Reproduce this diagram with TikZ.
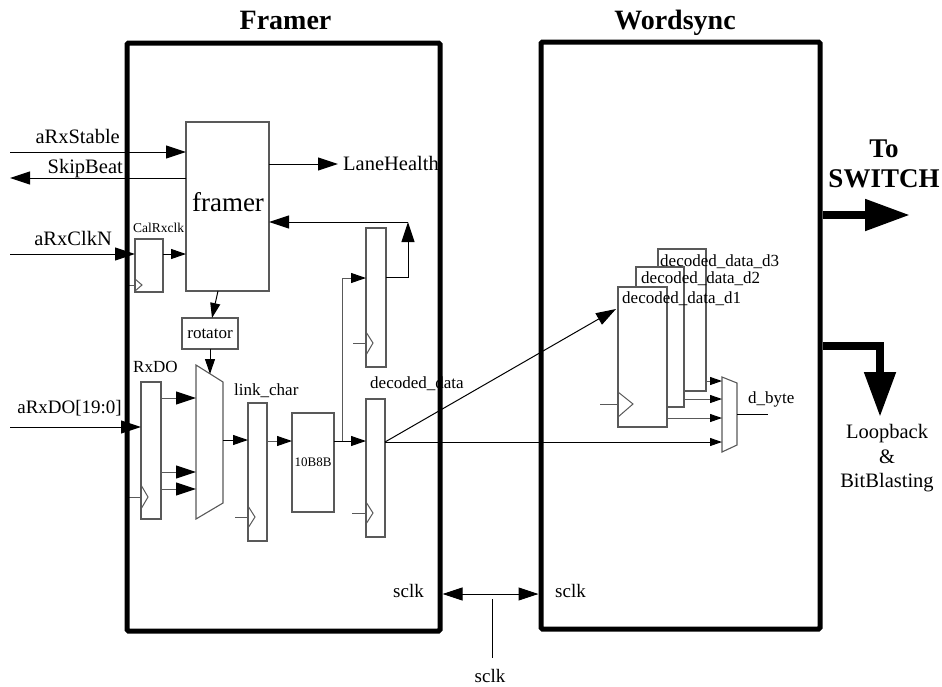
\documentclass[tikz,border=0pt]{standalone}
\usepackage{fontspec}
\setmainfont{Liberation Serif}
\usetikzlibrary{arrows.meta,calc}
\begin{document}
\begin{tikzpicture}[x=1pt,y=-1pt,
  box/.style={draw=black!65,fill=white,line width=1.1pt,inner sep=0pt,outer sep=0pt},
  frame/.style={draw=black,line width=5pt,rounded corners=1.5pt},
  lbl/.style={inner sep=0pt,font=\fontsize{19}{22}\selectfont},
  blbl/.style={inner sep=0pt,font=\fontsize{20.5}{24}\selectfont},
  mlbl/.style={inner sep=0pt,font=\fontsize{17}{20}\selectfont},
  slbl/.style={inner sep=0pt,font=\fontsize{13.5}{16}\selectfont},
  ttl/.style={inner sep=0pt,font=\fontsize{28}{30}\selectfont\bfseries},
  wire/.style={line width=1pt,draw=black},
  gwire/.style={line width=1pt,draw=black!65},
  ahB/.style={-{Triangle[length=20pt,width=13pt,color=black]}},
  ahM/.style={-{Triangle[length=15pt,width=10pt,color=black]}},
  ahS/.style={-{Triangle[length=12pt,width=8pt,color=black]}},
  dblarr/.style={{Triangle[length=20pt,width=13pt]}-{Triangle[length=20pt,width=13pt]}},
  fat/.style={line width=8pt,-{Triangle[length=45pt,width=30pt]}},
  clkt/.style={draw=black!65,line width=1pt}
]
\useasboundingbox (0,0) rectangle (942,686);

% titles
\node[ttl,anchor=base] (tF) at (285.5,29) {Framer};
\node[ttl,anchor=base] (tW) at (675,29) {Wordsync};

% blocks in Framer
\node[box,minimum width=83pt,minimum height=169pt] (fr) at (227.5,206.5) {};
\node[inner sep=0pt,font=\fontsize{27}{30}\selectfont,anchor=base] (frt) at (228,211) {framer};
\node[box,minimum width=28pt,minimum height=53pt] (cal) at (149,265.5) {};
\node[box,minimum width=56pt,minimum height=31pt,font=\fontsize{17}{20}\selectfont] (rot) at (210,333.5) {rotator};
\node[box,minimum width=20pt,minimum height=137pt] (rxdo) at (151,450.5) {};
\node[box,minimum width=19pt,minimum height=138pt] (lnk) at (257.5,472) {};
\node[box,minimum width=42pt,minimum height=99pt,font=\fontsize{13}{15}\selectfont] (b10) at (313,462.5) {10B8B};
\node[box,minimum width=20pt,minimum height=139pt] (up) at (376,297.5) {};
\node[box,minimum width=19pt,minimum height=138pt] (dec) at (375.5,468) {};

% mux 1
\coordinate (m1a) at (196,365);
\coordinate (m1b) at (223,382);
\coordinate (m1c) at (223,503);
\coordinate (m1d) at (196,519);
\draw[box] (m1a) -- (m1b) -- (m1c) -- (m1d) -- cycle;

% blocks in Wordsync
\node[box,minimum width=48pt,minimum height=142pt] (d3) at (682,320) {};
\node[box,minimum width=48pt,minimum height=140pt] (d2) at (660,337) {};
\node[box,minimum width=49pt,minimum height=140pt] (d1) at (642.5,357) {};
\node[mlbl,anchor=base west] (d3t) at (660,266) {decoded\_data\_d3};
\node[mlbl,anchor=base west] (d2t) at (641,283) {decoded\_data\_d2};
\node[mlbl,anchor=base west] (d1t) at (622,303) {decoded\_data\_d1};

% mux 2
\coordinate (m2a) at (722,377);
\coordinate (m2b) at (737,383);
\coordinate (m2c) at (737,445);
\coordinate (m2d) at (722,452);
\draw[box] (m2a) -- (m2b) -- (m2c) -- (m2d) -- cycle;

% clock triangles
\draw[clkt] (135,279) -- (142,285) -- (135,291);
\draw[gwire] (127,285) -- (135,285);
\draw[clkt] (141,485) -- (148,497) -- (141,509);
\draw[gwire] (127,497) -- (141,497);
\draw[clkt] (248,506) -- (255,517) -- (248,528);
\draw[gwire] (235,517) -- (248,517);
\draw[clkt] (366,332) -- (373,343) -- (366,355);
\draw[gwire] (353,343) -- (366,343);
\draw[clkt] (366,502) -- (373,513) -- (366,524);
\draw[gwire] (352,513) -- (366,513);
\draw[clkt] (618,392) -- (633,404) -- (618,417);
\draw[gwire] (600,404) -- (618,404);

% labels
\node[blbl,anchor=base east] (l1) at (120,143) {aRxStable};
\node[blbl,anchor=base east] (l2) at (123,173) {SkipBeat};
\node[blbl,anchor=base east] (l3) at (112,245) {aRxClkN};
\node[slbl,anchor=base west] (l4) at (133,232) {CalRxclk};
\node[blbl,anchor=base west] (l5) at (343,170) {LaneHealth};
\node[mlbl,anchor=base west] (l6) at (133,372) {RxDO};
\node[lbl,anchor=base east] (l7) at (122,413) {aRxDO[19:0]};
\node[mlbl,anchor=base west] (l8) at (234,395) {link\_char};
\node[mlbl,anchor=base west] (l9) at (370,388) {decoded\_data};
\node[mlbl,anchor=base west] (l10) at (748,403) {d\_byte};
\node[lbl,anchor=base west] (s1) at (393,597) {sclk};
\node[lbl,anchor=base west] (s2) at (555,597) {sclk};
\node[lbl,anchor=base] (s3) at (490,682) {sclk};
\node[ttl,font=\fontsize{27}{30}\selectfont\bfseries,anchor=base] (to1) at (884,157) {To};
\node[ttl,font=\fontsize{27}{30}\selectfont\bfseries,anchor=base] (to2) at (884,187) {SWITCH};
\node[blbl,anchor=base] (lb1) at (887,438) {Loopback};
\node[blbl,anchor=base] (lb2) at (887,463) {\&};
\node[blbl,anchor=base] (lb3) at (887,487) {BitBlasting};

% free ends
\coordinate (inS) at (10,152);
\coordinate (outSB) at (10,178);
\coordinate (inC) at (10,254);
\coordinate (inD) at (10,427);
\coordinate (lhE) at (338,164);
\coordinate (fb) at (408,222);
\coordinate (br) at (342,441);
\coordinate (dsp) at (385,442);
\coordinate (d1in) at (616,309);
\coordinate (dbo) at (768,414);

% wires
\draw[wire,ahB] (inS) -- (fr.west |- inS);
\draw[wire,ahB] (fr.west |- outSB) -- (outSB);
\draw[wire,ahB] (inC) -- (cal.west |- inC);
\draw[wire,ahM] (cal.east |- inC) -- (fr.west |- inC);
\draw[wire,ahB] (fr.east |- lhE) -- (lhE);
\draw[wire,ahB] (fb) -- (fr.east |- fb);
\draw[wire,ahB] (up.east |- 0,277) -| (fb);
\draw[wire,ahM] (fr.south -| 218,0) -- (rot.north -| 212,0);
\draw[wire,ahM] (rot.south) -- (210,374);
\draw[wire,ahB] (inD) -- (rxdo.west |- inD);
\draw[gwire,ahB] (rxdo.east |- 0,398) -- (m1a |- 0,398);
\draw[gwire,ahB] (rxdo.east |- 0,472) -- (m1a |- 0,472);
\draw[gwire,ahB] (rxdo.east |- 0,489) -- (m1a |- 0,489);
\draw[wire,ahM] (m1b |- 0,440) -- (lnk.west |- 0,440);
\draw[gwire,ahM] (lnk.east |- 0,441) -- (b10.west |- 0,441);
\draw[wire,ahM] (b10.east |- 0,441) -- (dec.west |- 0,441);
\draw[gwire,ahM] (br) |- (up.west |- 0,278);
\draw[wire,ahB] (dsp) -- (d1in);
\draw[wire,ahS] (dsp) -- (m2a |- dsp);
\draw[gwire,ahS] (d3.east |- 0,381) -- (m2a |- 0,381);
\draw[gwire,ahS] (d2.east |- 0,399) -- (m2a |- 0,399);
\draw[gwire,ahS] (d1.east |- 0,418) -- (m2a |- 0,418);
\draw[wire] (m2b |- dbo) -- (dbo);

% frames
\node[frame,minimum width=313pt,minimum height=588pt,inner sep=0pt] (F) at (283.5,337) {};
\node[frame,minimum width=279pt,minimum height=587pt,inner sep=0pt] (W) at (680.5,335.5) {};

% big arrows
\draw[fat] (W.east |- 0,215) -- (910,215);
\draw[line width=8pt] (W.east |- 0,346) -- (880,346) -- (880,386);
\draw[fat] (880,342) -- (880,417);

% sclk
\coordinate (sc) at (492,594);
\coordinate (scb) at (492,658);
\draw[wire,dblarr] (F.east |- sc) -- (W.west |- sc);
\draw[wire] (492,599) -- (scb);
\end{tikzpicture}
\end{document}
